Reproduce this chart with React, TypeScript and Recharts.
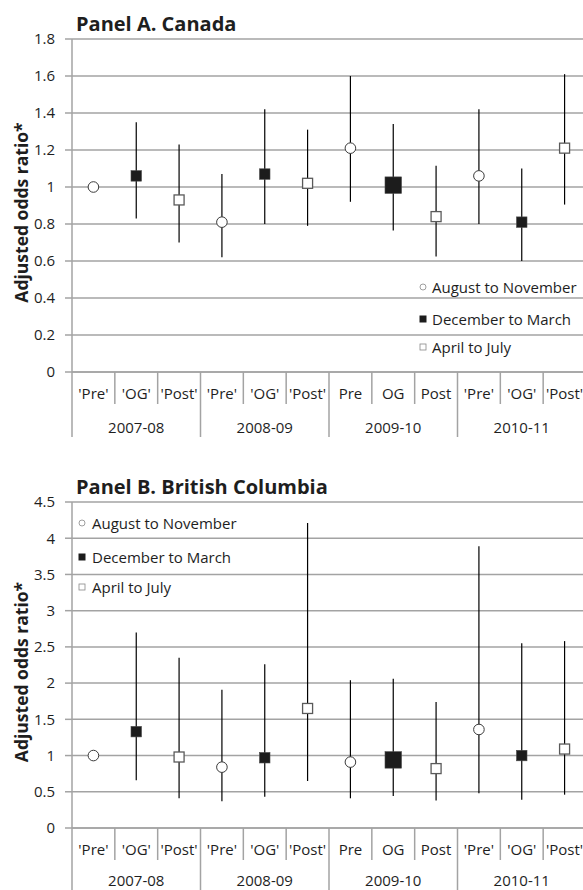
import React from 'react';
import { ComposedChart, Scatter, XAxis, YAxis, CartesianGrid, ErrorBar } from 'recharts';

// ---------- data ----------
const seasons = ['2007-08', '2008-09', '2009-10', '2010-11'];
const periodLabels = ["'Pre'", "'OG'", "'Post'", "'Pre'", "'OG'", "'Post'", 'Pre', 'OG', 'Post', "'Pre'", "'OG'", "'Post'"];
const periodTypes = ['circle', 'filled', 'open', 'circle', 'filled', 'open', 'circle', 'filled', 'open', 'circle', 'filled', 'open'];
const bigMarker = [false, false, false, false, false, false, false, true, false, false, false, false];

// Panel A. Canada
const canadaOR = [1.0, 1.06, 0.93, 0.81, 1.07, 1.02, 1.21, 1.01, 0.84, 1.06, 0.81, 1.21];
const canadaLow = [1.0, 0.83, 0.7, 0.62, 0.8, 0.79, 0.92, 0.765, 0.625, 0.8, 0.6, 0.905];
const canadaHigh = [1.0, 1.35, 1.23, 1.07, 1.42, 1.31, 1.6, 1.34, 1.115, 1.42, 1.1, 1.61];
const canadaTicks = [0, 0.2, 0.4, 0.6, 0.8, 1, 1.2, 1.4, 1.6, 1.8];

// Panel B. British Columbia
const bcOR = [1.0, 1.33, 0.98, 0.84, 0.97, 1.65, 0.91, 0.94, 0.82, 1.36, 1.0, 1.09];
const bcLow = [1.0, 0.66, 0.41, 0.37, 0.43, 0.65, 0.41, 0.44, 0.38, 0.48, 0.39, 0.46];
const bcHigh = [1.0, 2.7, 2.35, 1.91, 2.26, 4.21, 2.04, 2.06, 1.74, 3.89, 2.55, 2.58];
const bcTicks = [0, 0.5, 1, 1.5, 2, 2.5, 3, 3.5, 4, 4.5];

const legendItems = [
  { type: 'circle', text: 'August to November' },
  { type: 'filled', text: 'December to March' },
  { type: 'open', text: 'April to July' },
];

// ---------- layout ----------
const FONT = "'Open Sans', 'Noto Sans', sans-serif";
const TEXT = '#1e1e1e';
const GRID = '#a3a3a3';
const CHART_W = 600;
const Y_W = 72;
const M_RIGHT = 14;
const BW = (CHART_W - Y_W - M_RIGHT) / periodLabels.length;

function buildRows(or: number[], low: number[], high: number[]) {
  return periodLabels.map((label, i) => {
    const t = periodTypes[i];
    return {
      key: 'k' + i,
      label,
      or: or[i],
      circle: t === 'circle' ? or[i] : null,
      filled: t === 'filled' ? or[i] : null,
      open: t === 'open' ? or[i] : null,
      big: bigMarker[i],
      err: [or[i] - low[i], high[i] - or[i]],
    };
  });
}

const Nothing = () => <g />;

const CircleShape = (p: any) => {
  if (p.payload == null || p.payload.circle == null || p.cy == null || isNaN(p.cy)) return <g />;
  return <circle cx={p.cx} cy={p.cy} r={5.3} fill="#fff" stroke="#3a3a3a" strokeWidth={1} />;
};
const FilledShape = (p: any) => {
  if (p.payload == null || p.payload.filled == null || p.cy == null || isNaN(p.cy)) return <g />;
  const s = p.payload.big ? 16.5 : 10.5;
  return <rect x={p.cx - s / 2} y={p.cy - s / 2} width={s} height={s} fill="#1c1c1c" stroke="#4a4a4a" strokeWidth={0.6} />;
};
const OpenShape = (p: any) => {
  if (p.payload == null || p.payload.open == null || p.cy == null || isNaN(p.cy)) return <g />;
  const s = 10;
  return <rect x={p.cx - s / 2} y={p.cy - s / 2} width={s} height={s} fill="#fff" stroke="#5a5a5a" strokeWidth={1.3} />;
};

const makeCatTick = (groupDy: number) => (props: any) => {
  const { x, y, index } = props;
  const half = BW / 2;
  const groupStart = index % 3 === 0;
  return (
    <g>
      <line x1={x - half} x2={x - half} y1={y} y2={y + (groupStart ? 65 : 32)} stroke={GRID} strokeWidth={1.5} />
      {index === periodLabels.length - 1 && (
        <line x1={x + half} x2={x + half} y1={y} y2={y + 65} stroke={GRID} strokeWidth={1.5} />
      )}
      <text x={x} y={y + 21} textAnchor="middle" dominantBaseline="central" fontSize={15} fontFamily={FONT} fill={TEXT}>
        {periodLabels[index]}
      </text>
      {index % 3 === 1 && (
        <text x={x} y={y + groupDy} textAnchor="middle" dominantBaseline="central" fontSize={15} fontFamily={FONT} fill={TEXT}>
          {seasons[Math.floor(index / 3)]}
        </text>
      )}
    </g>
  );
};

const YLabel = (p: any) => {
  const vb = p.viewBox || { x: 0, y: 0, width: 0, height: 0 };
  const cy = vb.y + vb.height / 2 + 7;
  return (
    <text x={21} y={cy} transform={`rotate(-90 21 ${cy})`} textAnchor="middle" dominantBaseline="central"
      fontWeight={700} fontSize={17.5} fontFamily={FONT} fill={TEXT}>
      Adjusted odds ratio*
    </text>
  );
};

const LegendSymbol = ({ type }: { type: string }) => (
  <svg width={8} height={8} style={{ position: 'absolute', left: -4, top: -4 }}>
    {type === 'circle' && <circle cx={4} cy={4} r={3} fill="#fff" stroke="#888" strokeWidth={0.8} />}
    {type === 'filled' && <rect x={0.5} y={0.5} width={7} height={7} fill="#1c1c1c" />}
    {type === 'open' && <rect x={1} y={1} width={6} height={6} fill="#fff" stroke="#888" strokeWidth={0.8} />}
  </svg>
);

const Legend = ({ symX, textX, rowsY }: { symX: number; textX: number; rowsY: number[] }) => (
  <>
    {legendItems.map((it, i) => (
      <React.Fragment key={it.text}>
        <div style={{ position: 'absolute', left: symX, top: rowsY[i] }}>
          <LegendSymbol type={it.type} />
        </div>
        <div style={{ position: 'absolute', left: textX, top: rowsY[i] - 11, lineHeight: '22px', fontSize: 15, fontFamily: FONT, color: TEXT, whiteSpace: 'nowrap' }}>
          {it.text}
        </div>
      </React.Fragment>
    ))}
  </>
);

function Panel({ title, rows, ticks, top, height, legend, groupDy }: any) {
  const yMax = ticks[ticks.length - 1];
  const Tick = makeCatTick(groupDy);
  return (
    <div style={{ position: 'absolute', left: 0, top, width: CHART_W, height }}>
      <div style={{ position: 'absolute', left: 76, top: 11, fontSize: 20, lineHeight: '26px', fontWeight: 700, fontFamily: FONT, color: TEXT, whiteSpace: 'nowrap' }}>
        {title}
      </div>
      <ComposedChart width={CHART_W} height={height} data={rows} margin={{ top: 39, right: M_RIGHT, bottom: 5, left: 0 }}>
        <CartesianGrid vertical={false} stroke={GRID} strokeWidth={1.5} />
        <XAxis dataKey="key" type="category" allowDuplicatedCategory={false} interval={0} height={70}
          padding={{ left: BW / 2, right: BW / 2 }}
          tickLine={false} tickSize={0} tickMargin={0} tick={<Tick />} axisLine={{ stroke: GRID, strokeWidth: 1.5 }} />
        <YAxis type="number" domain={[0, yMax]} ticks={ticks} width={Y_W} tickSize={7} tickMargin={10}
          tickFormatter={(v: number) => String(v)} interval={0}
          tick={{ fill: TEXT, fontSize: 15, fontFamily: FONT }}
          tickLine={{ stroke: GRID, strokeWidth: 1.5 }} axisLine={{ stroke: GRID, strokeWidth: 1.5 }}
          label={{ content: YLabel }} />
        <Scatter dataKey="or" shape={Nothing} isAnimationActive={false} legendType="none">
          <ErrorBar dataKey="err" direction="y" width={0} stroke="#000" strokeWidth={1.2} />
        </Scatter>
        <Scatter dataKey="circle" shape={CircleShape} isAnimationActive={false} />
        <Scatter dataKey="filled" shape={FilledShape} isAnimationActive={false} />
        <Scatter dataKey="open" shape={OpenShape} isAnimationActive={false} />
      </ComposedChart>
      <Legend {...legend} />
    </div>
  );
}

export default function App() {
  const rowsA = buildRows(canadaOR, canadaLow, canadaHigh);
  const rowsB = buildRows(bcOR, bcLow, bcHigh);
  return (
    <div style={{ position: 'fixed', left: 0, top: 0, width: 583, height: 890, overflow: 'hidden', background: '#fff' }}>
      <Panel title="Panel A. Canada" rows={rowsA} ticks={canadaTicks} top={0} height={447} groupDy={55}
        legend={{ symX: 423, textX: 432, rowsY: [287, 319, 347] }} />
      <Panel title="Panel B. British Columbia" rows={rowsB} ticks={bcTicks} top={463} height={440} groupDy={52}
        legend={{ symX: 82, textX: 92, rowsY: [60, 94, 124] }} />
    </div>
  );
}
